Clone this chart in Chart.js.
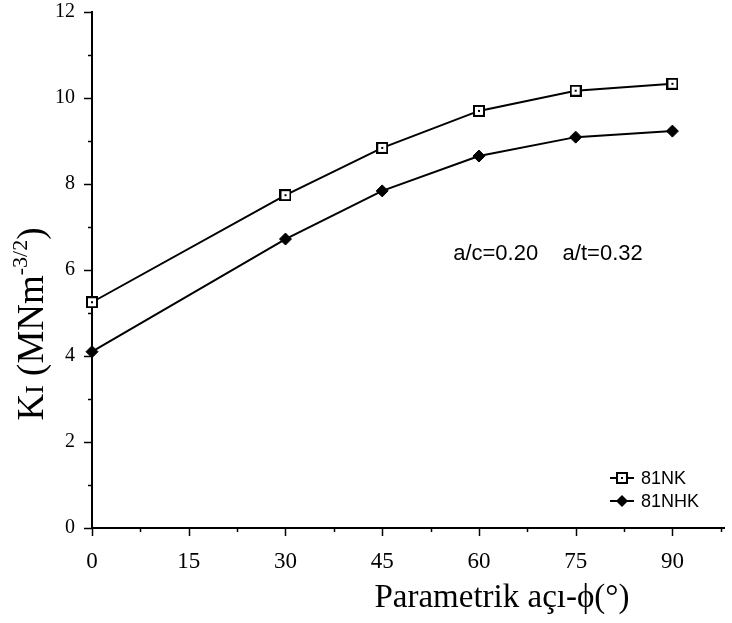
<!DOCTYPE html>
<html>
<head>
<meta charset="utf-8">
<script src="https://cdn.jsdelivr.net/npm/chart.js@4/dist/chart.umd.min.js"></script>
<style>
  html, body { margin: 0; padding: 0; background: #fff; }
  #wrap { width: 732px; height: 623px; position: relative; }
</style>
</head>
<body>
<div id="wrap"><canvas id="canvas"></canvas></div>
<script>
// values
const angles = [0, 30, 45, 60, 75, 90];
const nkValues = [5.25, 7.74, 8.84, 9.7, 10.17, 10.33];
const nhkValues = [4.1, 6.72, 7.84, 8.65, 9.09, 9.23];
const seriesNames = ['81NK', '81NHK'];
const xTickValues = [0, 7.5, 15, 22.5, 30, 37.5, 45, 52.5, 60, 67.5, 75, 82.5, 90, 97.5];
const yTickValues = [0, 1, 2, 3, 4, 5, 6, 7, 8, 9, 10, 11, 12];
const xTitle = 'Parametrik açı-ϕ(°)';
const noteText = 'a/c=0.20    a/t=0.32';

const serif = '"Liberation Serif", "Times New Roman", serif';
const sans = '"Liberation Sans", Arial, sans-serif';

function makeSquareMarker() {
  const c = document.createElement('canvas');
  c.width = 12;
  c.height = 12;
  const ctx = c.getContext('2d');
  ctx.fillStyle = '#fff';
  ctx.fillRect(1, 1, 10, 10);
  ctx.strokeStyle = '#000';
  ctx.lineWidth = 2;
  ctx.strokeRect(1, 1, 10, 10);
  ctx.fillStyle = '#000';
  ctx.fillRect(5, 5, 2, 2);
  return c;
}
const squareMarker = makeSquareMarker();

function toPoints(values) {
  return angles.map((a, i) => ({x: a, y: values[i]}));
}

const extrasPlugin = {
  id: 'extras',
  afterDraw(chart) {
    const ctx = chart.ctx;
    const xs = chart.scales.x;
    const ys = chart.scales.y;
    const area = chart.chartArea;
    ctx.save();
    ctx.strokeStyle = '#000';
    ctx.fillStyle = '#000';
    ctx.lineWidth = 1.5;

    // tick marks, long on labelled values
    for (const v of yTickValues) {
      const py = Math.round(ys.getPixelForValue(v)) + 0.5;
      const len = v % 2 === 0 ? 8 : 4;
      ctx.beginPath();
      ctx.moveTo(area.left - len, py);
      ctx.lineTo(area.left, py);
      ctx.stroke();
    }
    for (const v of xTickValues) {
      const px = Math.round(xs.getPixelForValue(v)) + 0.5;
      const len = v % 15 === 0 ? 8 : 4;
      ctx.beginPath();
      ctx.moveTo(px, area.bottom);
      ctx.lineTo(px, area.bottom + len);
      ctx.stroke();
    }

    // note inside the plot
    ctx.font = '22px ' + sans;
    ctx.textBaseline = 'middle';
    ctx.textAlign = 'left';
    ctx.fillText(noteText, xs.getPixelForValue(56.0), ys.getPixelForValue(6.38));

    // legend
    const legendX = 622;
    const legendY = [478, 501];
    ctx.font = '18px ' + sans;
    legendY.forEach((ly, i) => {
      ctx.lineWidth = 2;
      ctx.beginPath();
      ctx.moveTo(legendX - 12, ly);
      ctx.lineTo(legendX + 12, ly);
      ctx.stroke();
      if (i === 0) {
        ctx.drawImage(squareMarker, legendX - 6, ly - 6);
      } else {
        ctx.beginPath();
        ctx.moveTo(legendX, ly - 6);
        ctx.lineTo(legendX + 6, ly);
        ctx.lineTo(legendX, ly + 6);
        ctx.lineTo(legendX - 6, ly);
        ctx.closePath();
        ctx.fill();
      }
      ctx.fillText(seriesNames[i], legendX + 19, ly + 1);
    });

    // x axis title
    ctx.font = '33px ' + serif;
    ctx.textAlign = 'center';
    ctx.fillText(xTitle, 502, 598);

    // y axis title: KI (MNm^-3/2), rotated
    ctx.textAlign = 'left';
    ctx.textBaseline = 'alphabetic';
    const parts = [
      {t: 'K', f: '37px ' + serif, dy: 0},
      {t: 'I', f: '26px ' + serif, dy: 0},
      {t: ' (MNm', f: '37px ' + serif, dy: 0},
      {t: '-3/2', f: '22px ' + serif, dy: -16},
      {t: ')', f: '37px ' + serif, dy: 0}
    ];
    let total = 0;
    for (const p of parts) {
      ctx.font = p.f;
      total += ctx.measureText(p.t).width;
    }
    ctx.translate(30, 324);
    ctx.rotate(-Math.PI / 2);
    let cx = -total / 2;
    for (const p of parts) {
      ctx.font = p.f;
      ctx.fillText(p.t, cx, 13 + p.dy);
      cx += ctx.measureText(p.t).width;
    }
    ctx.restore();
  }
};

const config = {
  type: 'line',
  data: {
    datasets: [
      {
        label: seriesNames[0],
        data: toPoints(nkValues),
        borderColor: '#000',
        borderWidth: 2,
        pointStyle: squareMarker,
        pointRadius: 6,
        tension: 0
      },
      {
        label: seriesNames[1],
        data: toPoints(nhkValues),
        borderColor: '#000',
        backgroundColor: '#000',
        borderWidth: 2,
        pointStyle: 'rectRot',
        pointRadius: 6,
        pointBorderWidth: 1,
        tension: 0
      }
    ]
  },
  options: {
    responsive: true,
    maintainAspectRatio: false,
    animation: false,
    clip: false,
    layout: {padding: {top: 12, right: 0, left: 0, bottom: 0}},
    plugins: {
      legend: {display: false},
      tooltip: {enabled: false}
    },
    scales: {
      x: {
        type: 'linear',
        min: 0,
        max: 98,
        afterBuildTicks: scale => {
          scale.ticks = xTickValues.map(v => ({value: v}));
        },
        afterFit: scale => {
          scale.height = 95;
          scale.paddingLeft = 0;
          scale.paddingRight = 0;
        },
        grid: {drawOnChartArea: false, drawTicks: false},
        border: {display: true, color: '#000', width: 2},
        ticks: {
          autoSkip: false,
          maxRotation: 0,
          padding: 20,
          color: '#000',
          font: {family: serif, size: 23},
          callback: v => (v % 15 === 0 ? String(v) : '')
        }
      },
      y: {
        type: 'linear',
        min: 0,
        max: 12,
        afterBuildTicks: scale => {
          scale.ticks = yTickValues.map(v => ({value: v}));
        },
        afterFit: scale => {
          scale.width = 92;
          scale.paddingTop = 0;
          scale.paddingBottom = 0;
        },
        grid: {drawOnChartArea: false, drawTicks: false},
        border: {display: true, color: '#000', width: 2},
        ticks: {
          autoSkip: false,
          padding: 17,
          color: '#000',
          font: {family: serif, size: 20},
          callback: v => (v % 2 === 0 ? String(v) : '')
        }
      }
    }
  },
  plugins: [extrasPlugin]
};

document.addEventListener('DOMContentLoaded', () => {
  const context = document.getElementById('canvas').getContext('2d');
  new Chart(context, config);
});
</script>
</body>
</html>
